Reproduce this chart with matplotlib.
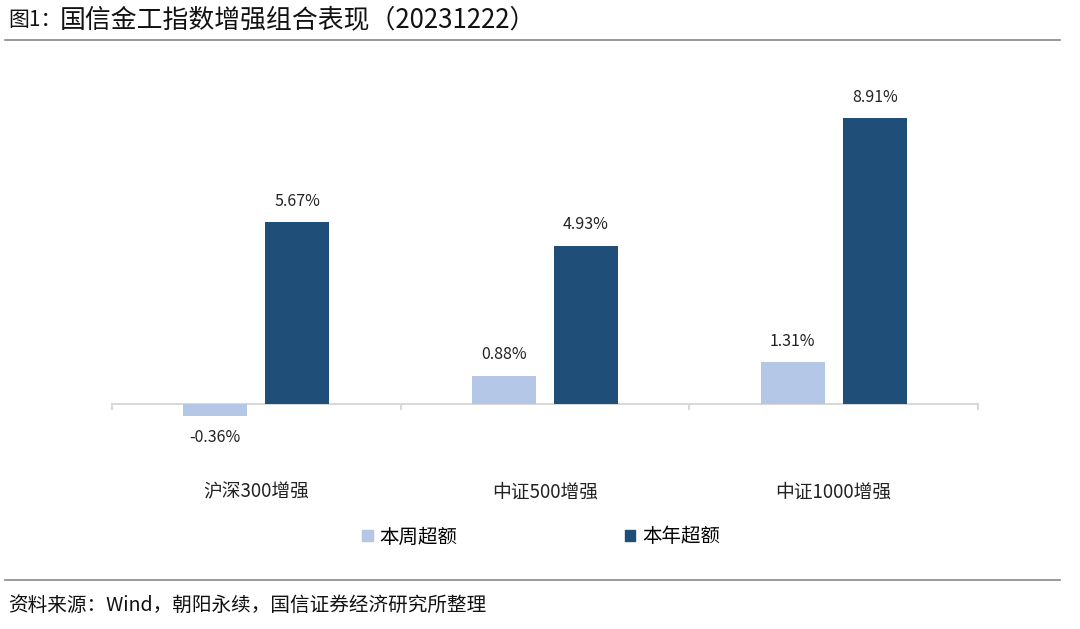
import matplotlib.pyplot as plt
from matplotlib.lines import Line2D
from matplotlib.patches import Patch
import numpy as np

plt.rcParams['font.family'] = ['Noto Sans CJK SC', 'DejaVu Sans']

categories = ['沪深300增强', '中证500增强', '中证1000增强']
weekly = [-0.36, 0.88, 1.31]
yearly = [5.67, 4.93, 8.91]
series_names = ['本周超额', '本年超额']
colors = ['#B4C7E7', '#1F4E79']

W, H = 1080, 629
fig = plt.figure(figsize=(W / 100, H / 100), dpi=100)

# axes placed in pixel coords: x 112..978, zero line at y=404
ymin, ymax = -2.0, 10.0
px_per = 32.1
top_px = 404 - ymax * px_per
bot_px = 404 - ymin * px_per
ax = fig.add_axes([112 / W, 1 - bot_px / H, (978 - 112) / W, (bot_px - top_px) / H])
ax.set_xlim(0, 3)
ax.set_ylim(ymin, ymax)

x = np.arange(len(categories)) + 0.5
bw = 0.222
off = 0.142
b1 = ax.bar(x - off, weekly, bw, color=colors[0], label=series_names[0])
b2 = ax.bar(x + off, yearly, bw, color=colors[1], label=series_names[1])

for bars, vals in [(b1, weekly), (b2, yearly)]:
    for b, v in zip(bars, vals):
        cx = b.get_x() + b.get_width() / 2
        dy = 15 if v >= 0 else -16
        ax.annotate(f'{v:.2f}%', (cx, v), xytext=(0, dy), textcoords='offset points',
                    ha='center', va='center', fontsize=11.5, color='#222222')

# zero line and category separators
ax.axhline(0, color='#D9D9D9', lw=1.5, zorder=0)
for s in range(4):
    ax.plot([s, s], [0, -5 / px_per], color='#D9D9D9', lw=1.5, clip_on=False, zorder=0)

for xi, c in zip(x, categories):
    ax.text(xi, -(492 - 404) / px_per, c, ha='center', va='center', fontsize=13.5, color='#222222')

for sp in ax.spines.values():
    sp.set_visible(False)
ax.set_xticks([])
ax.set_yticks([])

handles = [Patch(color=colors[0]), Patch(color=colors[1])]
fig.legend(handles, series_names, loc='center', bbox_to_anchor=(541 / W, 1 - 537 / H),
           ncol=2, frameon=False, fontsize=14, handlelength=0.55, handleheight=0.55,
           handletextpad=0.35, columnspacing=8.6)

# title and source
fig.text(8 / W, 1 - 20 / H, '图1：', fontsize=15, va='center', ha='left', color='#111111')
fig.text(60 / W, 1 - 20 / H, '国信金工指数增强组合表现（20231222）', fontsize=18.6,
         va='center', ha='left', color='#111111')
fig.add_artist(Line2D([5 / W, 1060 / W], [1 - 40 / H, 1 - 40 / H], color='#888888', lw=1.2))
fig.add_artist(Line2D([5 / W, 1060 / W], [1 - 580 / H, 1 - 580 / H], color='#888888', lw=1.2))
fig.text(8 / W, 1 - 605 / H, '资料来源：Wind，朝阳永续，国信证券经济研究所整理', fontsize=14.1,
         va='center', ha='left', color='#111111')

fig.savefig('out.png', dpi=100)
